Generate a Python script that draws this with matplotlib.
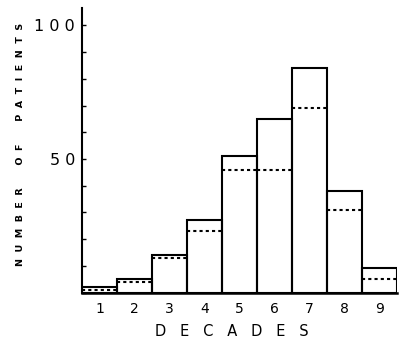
import numpy as np
import matplotlib
matplotlib.use("Agg")
import matplotlib.pyplot as plt

# Data
decades = [1, 2, 3, 4, 5, 6, 7, 8, 9]
decade_labels = ["1", "2", "3", "4", "5", "6", "7", "8", "9"]
total_patients = [2, 5, 14, 27, 51, 65, 84, 38, 9]
subgroup_patients = [1, 4, 13, 23, 46, 46, 69, 31, 5]

fig = plt.figure(figsize=(4.0, 3.38), dpi=100)
ax = fig.add_axes([0.205, 0.1346, 0.7875, 0.8414])

x = np.array(decades)
ax.bar(x, total_patients, width=1.0, fill=False, edgecolor="black",
       linewidth=1.5, zorder=2)
ax.hlines(subgroup_patients, x - 0.5, x + 0.5, colors="black",
          linewidth=1.5, linestyles=(0, (1.5, 1.5)), zorder=1)

ax.set_xlim(0.5, 9.5)
ax.set_ylim(0, 106.5)

for s in ["top", "right"]:
    ax.spines[s].set_visible(False)
ax.spines["left"].set_linewidth(1.5)
ax.spines["bottom"].set_linewidth(1.8)

ax.set_xticks(decades)
ax.set_xticklabels(decade_labels, fontsize=10)
ax.tick_params(axis="x", length=0, pad=7)

ax.set_yticks(range(0, 101, 10))
ax.set_yticklabels(["", "", "", "", "", "5 0", "", "", "", "", "1 0 0"],
                   fontsize=11.5)
ax.tick_params(axis="y", direction="in", length=3, width=1, pad=5)

ax.set_xlabel("D   E   C   A   D   E   S", fontsize=10.5)
ax.xaxis.set_label_coords(0.476, -0.11)
ax.set_ylabel("N  U  M  B  E  R       O  F       P  A  T  I  E  N  T  S",
              fontsize=6.8, fontweight="bold")
ax.yaxis.set_label_coords(-0.18, 0.52)

fig.savefig("out.png", dpi=100)
